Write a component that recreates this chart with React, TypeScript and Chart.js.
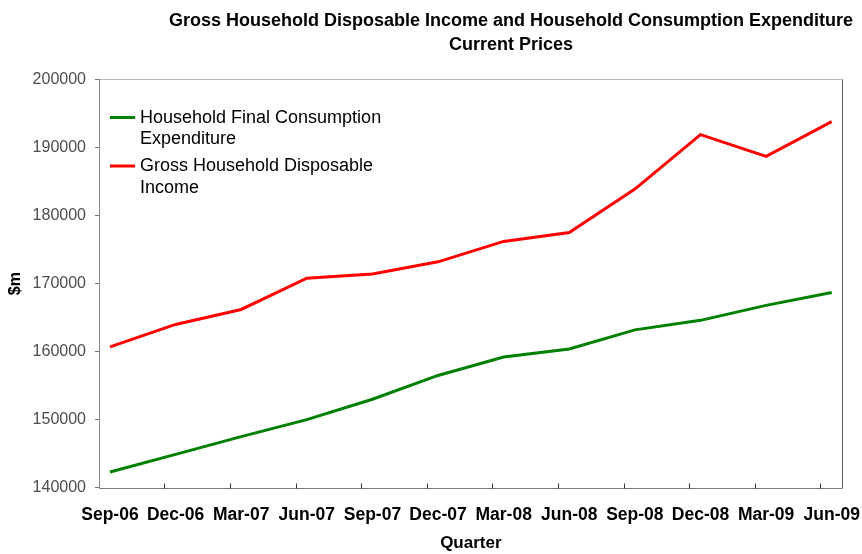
import React, { useEffect, useRef } from "react";
import { Chart, registerables } from "chart.js";

Chart.register(...registerables);

const categories = [
  "Sep-06", "Dec-06", "Mar-07", "Jun-07", "Sep-07", "Dec-07",
  "Mar-08", "Jun-08", "Sep-08", "Dec-08", "Mar-09", "Jun-09",
];
const consumption = [
  142300, 144900, 147500, 150000, 153000, 156500,
  159200, 160400, 163200, 164600, 166800, 168700,
];
const disposableIncome = [
  160700, 164000, 166200, 170800, 171400, 173200,
  176200, 177500, 183900, 191900, 188700, 193800,
];
const seriesLabelLines = [
  ["Household Final Consumption", "Expenditure"],
  ["Gross Household Disposable", "Income"],
];
const seriesColors = ["#008000", "#ff0000"];
const titleLines = [
  "Gross Household Disposable Income and Household Consumption Expenditure",
  "Current Prices",
];
const yMin = 140000;
const yMax = 200000;
const yStep = 10000;
const xTitle = "Quarter";
const yTitle = "$m";

const FONT = "'Liberation Sans', Arial, sans-serif";
const EDGE = 0.152; // category-axis margin either side of first/last point
const TICK_SHIFT = 0.172; // tick marks sit slightly before each category

const decorPlugin = {
  id: "decor",
  afterDraw(chart: any) {
    const { ctx, chartArea: a, scales } = chart;
    const xs = scales.x;
    ctx.save();
    ctx.lineWidth = 1;
    const seg = (c: string, x1: number, y1: number, x2: number, y2: number) => {
      ctx.strokeStyle = c;
      ctx.beginPath();
      ctx.moveTo(x1, y1);
      ctx.lineTo(x2, y2);
      ctx.stroke();
    };
    const L = Math.round(a.left) - 0.5;
    const R = Math.round(a.right) + 0.5;
    const T = Math.round(a.top) - 0.5;
    const B = Math.round(a.bottom) + 0.5;
    seg("#b8b8b8", L, T, R, T);
    seg("#5a5a5a", R, T, R, B);
    seg("#8a8a8a", L, T, L, B);
    seg("#7a7a7a", L, B, R, B);
    for (let i = 1; i < categories.length; i++) {
      const px = Math.round(xs.getPixelForValue(i - TICK_SHIFT)) + 0.5;
      seg("#333", px, B, px, B - 5);
    }
    // title
    ctx.fillStyle = "#000";
    ctx.textAlign = "center";
    ctx.textBaseline = "middle";
    ctx.font = `bold 18px ${FONT}`;
    const tx = 511;
    ctx.fillText(titleLines[0], tx, 21);
    ctx.fillText(titleLines[1], tx, 45);
    // legend
    ctx.textAlign = "left";
    ctx.font = `18px ${FONT}`;
    let ly = 118;
    chart.data.datasets.forEach((ds: any, di: number) => {
      const lines = seriesLabelLines[di];
      ctx.strokeStyle = ds.borderColor;
      ctx.lineWidth = 3;
      ctx.beginPath();
      ctx.moveTo(110, ly - 0.5);
      ctx.lineTo(135, ly - 0.5);
      ctx.stroke();
      ctx.fillStyle = "#000";
      lines.forEach((t: string, li: number) => {
        ctx.fillText(t, 140, ly + li * 21.5);
      });
      ly += 48.5;
    });
    ctx.restore();
  },
};

export default function App() {
  const ref = useRef<HTMLCanvasElement | null>(null);
  useEffect(() => {
    document.body.style.margin = "0";
    const canvas = ref.current!;
    const chart = new Chart(canvas, {
      type: "line",
      data: {
        datasets: [
          {
            label: seriesLabelLines[0].join(" "),
            data: consumption.map((v, i) => ({ x: i, y: v })),
            borderColor: seriesColors[0],
            backgroundColor: seriesColors[0],
            borderWidth: 3,
            pointRadius: 0,
            tension: 0,
          },
          {
            label: seriesLabelLines[1].join(" "),
            data: disposableIncome.map((v, i) => ({ x: i, y: v })),
            borderColor: seriesColors[1],
            backgroundColor: seriesColors[1],
            borderWidth: 3,
            pointRadius: 0,
            tension: 0,
          },
        ],
      },
      options: {
        responsive: false,
        animation: false,
        layout: { padding: { top: 79.5, right: 20.3, bottom: 0, left: 0 } },
        plugins: {
          legend: { display: false },
          title: { display: false },
          tooltip: { enabled: false },
        },
        scales: {
          x: {
            type: "linear",
            min: -EDGE,
            max: categories.length - 1 + EDGE,
            afterBuildTicks: (s: any) => {
              s.ticks = categories.map((_, i) => ({ value: i }));
            },
            afterFit: (s: any) => {
              s.height = 66.3;
              s.paddingLeft = 0;
              s.paddingRight = 0;
            },
            grid: { display: false, drawTicks: false, tickLength: 0 },
            border: { display: false },
            ticks: {
              autoSkip: false,
              maxRotation: 0,
              minRotation: 0,
              padding: 17,
              color: "#000",
              font: { family: FONT, size: 17.5, weight: "bold" },
              callback: (v: any) => categories[v as number] ?? "",
            },
            title: {
              display: true,
              text: xTitle,
              color: "#000",
              font: { family: FONT, size: 17, weight: "bold" },
              padding: { top: 0, bottom: 0 },
            },
          },
          y: {
            min: yMin,
            max: yMax,
            afterFit: (s: any) => {
              s.width = 100;
            },
            grid: {
              display: true,
              drawOnChartArea: false,
              drawTicks: true,
              tickLength: 5,
              color: "#777",
            },
            border: { display: false },
            ticks: {
              stepSize: yStep,
              padding: 9,
              color: "#4d4d4d",
              font: { family: FONT, size: 16 },
              callback: (v: any) => String(v),
            },
            title: {
              display: true,
              text: yTitle,
              color: "#000",
              font: { family: FONT, size: 16, weight: "bold" },
              padding: { top: 6, bottom: 0 },
            },
          },
        },
      },
      plugins: [decorPlugin],
    });
    return () => chart.destroy();
  }, []);
  return <canvas ref={ref} width={862} height={554} style={{ display: "block" }} />;
}
